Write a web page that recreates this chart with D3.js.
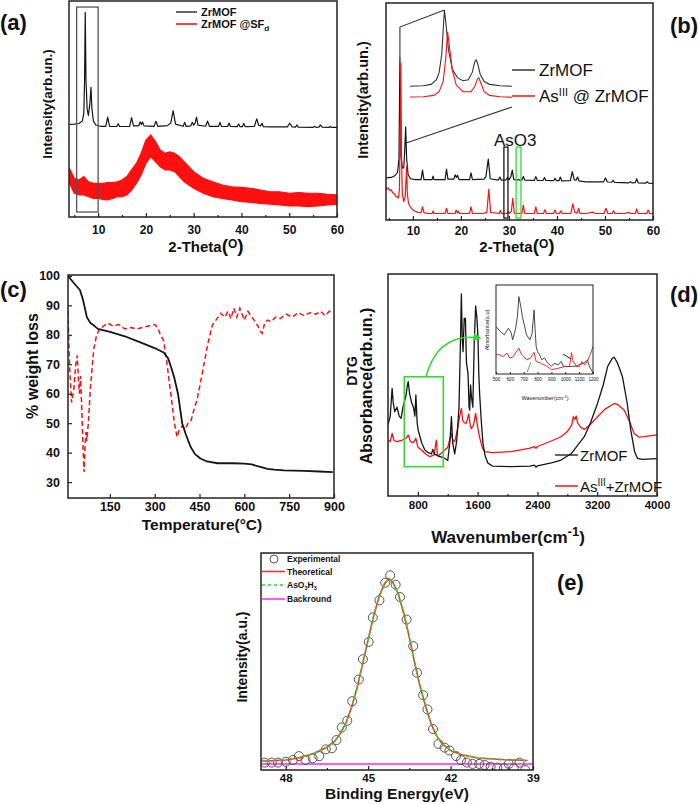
<!DOCTYPE html>
<html>
<head>
<meta charset="utf-8">
<script src="https://cdn.jsdelivr.net/npm/d3@7"></script>
<style>
body { margin: 0; background: #fff; }
text { font-family: "Liberation Sans", Arial, sans-serif; fill: #111; }
</style>
</head>
<body>
<div id="fig"></div>
<script>
// ---------- (a) XRD ZrMOF / ZrMOF@SFd ----------
const xrdTicks = [10, 20, 30, 40, 50, 60];
const xrdMinor = [5, 15, 25, 35, 45, 55];
const zrmofA = [[4,42.9],[5,43.0],[6,43.3],[6.7,44.5],[7.0,48],[7.15,62],[7.3,94.8],[7.45,64],[7.7,50],[7.95,47],[8.25,52],[8.5,60],[8.7,50],[9.0,44.5],[9.5,42.6],[10.5,42],[11.6,42],[12.0,46.2],[12.4,42],[13.9,41.9],[14.2,43.2],[14.5,41.9],[16.6,42],[17.0,46],[17.4,42.2],[18.5,42.2],[18.8,44],[19.05,42.8],[19.3,44],[19.6,42.2],[21.7,42],[22.1,44.3],[22.5,42],[24.5,42.3],[25.2,43.5],[25.7,49.2],[26.2,43],[27.8,42],[28.1,43.8],[28.4,42],[29.4,42.2],[29.7,43.8],[30.0,42.5],[30.3,43.5],[30.6,46.2],[30.9,42.5],[32.5,42],[32.9,44.4],[33.3,42],[35.2,42],[35.5,43.8],[35.8,42],[37.1,41.9],[37.4,43.5],[37.7,41.9],[39.1,41.8],[39.4,43],[39.7,41.8],[40.2,41.8],[40.5,43.3],[40.8,41.8],[42.7,42],[43.2,45.4],[43.6,42.5],[44.0,42.2],[44.3,43.4],[44.6,41.8],[46,41.7],[49.6,41.7],[50.1,43.4],[50.6,41.7],[51.3,41.6],[51.6,42.6],[51.9,41.6],[55.0,41.5],[55.3,42.0],[55.6,41.5],[56.2,41.6],[56.5,42.6],[56.9,41.6],[58.4,41.5],[58.6,42.0],[58.8,41.5],[60,41.5]];
// ZrMOF@SFd: noisy band, upper and lower edge
const sfdTheta = [4,5,6,7,8,9,10,11,12,13,14,15,16,17,18,19,20,21,22,23,24,25,26,27,28,29,30,32,34,36,38,40,42,44,46,48,50,52,54,56,58,60];
const sfdUpper = [22.5,17.9,17.1,18.7,16.3,15.6,15.6,15.6,15.9,15.9,16.3,17.1,18.7,21.8,24.8,29.5,35.6,38,34.9,31,29.5,30.2,29.5,27.9,25.6,23.3,21,17.9,16.3,14.8,14,13.7,13.3,12.5,11.7,11.7,11,11.3,11,11,10.5,10.2];
const sfdLower = [15.6,11.0,10.2,10.2,9.4,8.6,8.6,8.2,7.9,8.6,9.4,9.4,10.2,12.5,15.6,19.4,24.8,27.9,25.6,23.3,21.8,21.8,21,18.7,16.3,14.8,13.3,11,9.4,8.6,7.9,7.1,6.8,6.3,6.0,5.6,5.1,5.1,4.8,5.1,5.6,6.0];

// ---------- (b) XRD ZrMOF / AsIII@ZrMOF ----------
const zrmofB = [[4.3,19.4],[5.5,19.6],[6.3,20.5],[6.8,22],[7.1,28],[7.3,74.7],[7.5,30],[7.8,24],[8.1,24],[8.3,32],[8.5,42.9],[8.7,28],[9.0,21],[9.5,19],[10.5,18.6],[11.7,18.6],[12.0,23],[12.3,18.6],[14.0,18.6],[14.2,20.2],[14.4,18.6],[16.7,18.6],[17.0,23.5],[17.3,18.8],[18.5,18.8],[18.8,20.8],[19.05,19.6],[19.3,20.6],[19.6,18.6],[21.8,18.6],[22.1,21.7],[22.4,18.6],[24.8,18.8],[25.2,20],[25.7,28.1],[26.1,19],[27.8,18.4],[28.1,19.8],[28.4,18.4],[29.4,18.5],[29.7,19.6],[30.0,18.5],[30.4,20],[30.7,23],[31.0,18.6],[32.7,18.4],[33.0,20],[33.3,18.4],[35.3,18.3],[35.6,20],[35.9,18.3],[37.1,18.2],[37.4,19.6],[37.7,18.2],[39.3,18.1],[39.6,19.2],[39.9,18.1],[40.4,18.1],[40.7,19.8],[41.0,18.0],[42.8,18.1],[43.2,22.3],[43.6,18.5],[44.0,18.4],[44.3,19.8],[44.6,18],[46,17.6],[49.7,17.6],[50.1,19.4],[50.5,17.5],[51.4,17.4],[51.7,18.3],[52.0,17.3],[55,17.1],[55.3,17.7],[55.6,17.1],[56.3,17.2],[56.6,19.0],[56.9,17.1],[58.5,17.0],[58.8,17.6],[59.1,17],[60,16.9]];
const asZrB = [[4.3,15.3],[4.6,14.2],[4.9,14.8],[5.2,13.5],[5.5,13.9],[5.8,12.5],[6.1,12.2],[6.4,11],[6.7,10.6],[7.0,10.2],[7.2,14],[7.35,40],[7.5,72.4],[7.62,30],[7.8,12],[8.1,8.5],[8.4,11],[8.6,20],[8.7,24.6],[8.85,12],[9.1,7.5],[9.5,6],[10,4.6],[10.5,4.0],[11,3.5],[11.7,3.4],[12.0,6.1],[12.3,3.4],[13,3.0],[14.0,3.0],[14.2,4.2],[14.4,3.0],[16.7,3.0],[17.0,5.4],[17.3,3.0],[18.8,3.0],[19.0,4.6],[19.3,3.2],[19.5,4.0],[19.7,3],[21.8,3],[22.1,6.1],[22.4,3],[24.5,3.0],[25.4,3.5],[25.8,14.1],[26.2,3.5],[28,3.0],[28.2,4.4],[28.5,3.0],[29.6,3.0],[29.8,4.0],[30.1,3],[30.5,4],[30.8,10],[31.1,3.2],[32.7,3],[33.0,6.9],[33.3,3],[35.3,3],[35.6,6.1],[35.9,3],[37.2,3],[37.5,4.8],[37.8,3],[39.3,3],[39.6,4.6],[39.9,3],[40.5,3],[40.8,4.2],[41.1,3],[42.9,3],[43.3,7.4],[43.7,3.5],[44.2,3.2],[44.5,5.4],[44.8,3],[46,3],[47.5,3.6],[48,3],[49.8,3],[50.2,5.4],[50.6,3],[51.5,3],[51.8,4.3],[52.1,3],[54,3],[55,3.5],[55.3,3],[56.3,3],[56.6,5.1],[56.9,3],[58.7,3],[59,4.6],[59.3,3],[60,3]];
// zoomed view of the two low-angle peaks
const zoomZr = [[6.0,15],[6.5,15.5],[6.8,17],[7.0,22],[7.1,30],[7.2,50],[7.25,75],[7.3,97.8],[7.35,85],[7.45,55],[7.6,33],[7.8,24],[8.0,21],[8.2,22],[8.35,30],[8.45,42],[8.5,43.5],[8.55,40],[8.65,28],[8.8,20],[9.0,17],[9.4,15.5],[9.85,15]];
const zoomAs = [[6.0,3.3],[6.5,3.5],[6.9,5],[7.1,9],[7.25,20],[7.35,45],[7.42,74],[7.48,60],[7.6,32],[7.75,16],[8.0,9],[8.3,9],[8.45,15],[8.55,23],[8.6,24],[8.68,18],[8.8,9],[9.0,5],[9.4,3.5],[9.85,3]];

// ---------- (c) TGA / DTG ----------
const tgaTicksX = [150, 300, 450, 600, 750, 900];
const tgaTicksY = [30, 40, 50, 60, 70, 80, 90, 100];
const tgaT = [10,30,50,60,73,85,95,110,130,151,200,250,300,330,345,355,365,378,392,405,420,435,453,475,510,560,600,625,644,660,677,700,733,800,850,896];
const tgaW = [100,97.5,95.2,92,86,84,83.3,82,81.5,81,79.5,77.5,75.5,74,72,69,65.7,60,50,46,42,39.5,38,37,36.4,36.4,36.3,36,35.4,35,34.5,34.2,34,33.8,33.6,33.4];
const dtgT = [10,15,22,30,36,41,45,48,52,56,61,64,67,70,73,78,85,96,106,116,130,143,160,180,200,220,240,260,280,300,310,319,330,341,350,358,366,375,383,392,402,414,422,431,442,453,465,476,485,493,505,521,535,545,555,565,575,585,600,612,625,633,645,655,660,668,677,690,705,720,740,760,780,800,820,840,855,870,885,896];
const dtgV = [88,70,57,62,70,73,64.6,60,66,55,40,33.4,42,47,44,50,62,75,80,82,83,84,83,83.5,82,82.5,82,82.5,83,83.5,82.5,80,78,70.4,63,56.8,50,45.3,48,49,48,50.4,51,54.4,58,63.6,70,76,80,83.3,85,87.3,86,88,85.5,89,86,89,85,88,86,85,83,81,80.5,84,85,84.5,86,85.5,87,86,87.5,86.5,87.5,87,88,86.5,88,87.5];

// ---------- (d) FTIR ----------
const irTicks = [800, 1600, 2400, 3200, 4000];
const irMinor = [1200, 2000, 2800, 3600];
const irZr = [[400,32],[430,36],[455,48.5],[470,42],[490,38],[520,40],[550,36],[575,35],[600,40],[640,45],[660,50],[671,51.5],[690,46],[716,42],[740,40],[760,36],[773,45.5],[790,33],[804,29.7],[850,24],[893,20.7],[940,19.5],[982,19],[1000,21],[1020,19],[1071,18],[1120,17.5],[1160,17],[1200,16],[1230,25],[1249,35.7],[1265,24],[1293,19],[1320,25],[1350,40],[1370,70],[1382,91],[1395,70],[1404,65],[1420,80],[1436,80],[1450,60],[1471,55],[1485,40],[1493,38.7],[1505,50],[1516,45],[1535,40],[1555,70],[1573,85.6],[1590,80],[1604,71.8],[1615,55],[1627,45.5],[1650,33],[1671,23.7],[1700,18],[1738,14.8],[1800,13.5],[2049,13.2],[2300,13.5],[2360,13.9],[2380,13.0],[2400,13.6],[2600,15],[2716,16.2],[2850,19],[3027,26.7],[3110,33],[3204,41.7],[3280,50],[3338,58.2],[3400,62],[3427,62.5],[3470,60],[3538,53.7],[3600,42],[3649,29.7],[3700,20],[3738,17],[3800,16.5],[4000,16.8]];
const irAs = [[400,25.2],[430,24.5],[455,28.2],[480,25],[520,24.5],[580,25],[640,26],[671,27.5],[700,24.5],[740,24],[773,26],[800,22],[849,20.7],[900,19],[960,17.7],[1020,18.5],[1040,24],[1049,25.2],[1060,19],[1071,18],[1120,19.5],[1160,20.7],[1200,22],[1230,26],[1249,28.2],[1270,25],[1293,24.5],[1330,30],[1360,36],[1382,39.5],[1400,34],[1420,33],[1449,32.8],[1465,35],[1480,37],[1500,32],[1516,30.3],[1545,32],[1573,37.2],[1600,31],[1627,26.3],[1660,22],[1693,20],[1800,19.5],[2049,20],[2300,21.6],[2360,22.2],[2380,21.5],[2400,22.3],[2600,25],[2716,26.7],[2800,29],[2860,32],[2880,35.7],[2900,34.5],[2920,36],[2938,32.8],[2980,31],[3027,30],[3100,32],[3204,35.7],[3300,39],[3427,41.7],[3480,41],[3560,38.7],[3640,33],[3693,28.2],[3760,26.5],[3827,26.7],[4000,27.5]];
// inset 500-1200 cm-1
const insetTicks = [500, 600, 700, 800, 900, 1000, 1100, 1200];
const insetZr = [[500,53.3],[530,48],[560,44],[590,51.5],[610,46],[620,38.4],[640,50],[655,65],[665,86.9],[680,75],[690,64.5],[705,55],[720,44],[745,38.4],[760,45],[768,60],[775,72],[782,50],[790,30.9],[800,25],[815,21.6],[830,16],[850,18],[870,13],[900,8.5],[920,12],[950,10.4],[970,14.1],[985,9],[1000,8.5],[1050,8.5],[1080,9],[1100,10.4],[1130,12],[1150,14.1],[1160,16],[1170,10],[1200,1.1]];
const insetAs = [[500,21.6],[520,22],[550,19.7],[580,23.5],[600,17.8],[620,19],[640,23.5],[665,29.2],[680,23],[690,21.6],[720,16],[750,17.8],[765,22],[775,24.3],[790,14],[820,12.3],[850,10],[870,8.5],[900,4.8],[950,6.5],[1000,8.5],[1030,8.5],[1040,18],[1045,24],[1055,15],[1080,8.5],[1100,8],[1120,14],[1140,10],[1160,14.5],[1180,22],[1200,30.9]];

// ---------- (e) XPS As 3d ----------
const xpsTicks = [48, 45, 42, 39];
const xpsMinor = [46.5, 43.5, 40.5];
const expE = [48.76,48.51,48.28,48.0,47.74,47.52,47.28,47.02,46.78,46.54,46.32,46.15,45.96,45.76,45.58,45.34,45.19,44.98,44.83,44.59,44.38,44.20,44.0,43.84,43.6,43.36,43.22,43.0,42.84,42.64,42.44,42.22,42.04,41.8,41.62,41.41,41.2,40.96,40.76,40.54,40.3,40.06,39.88,39.7,39.49,39.28];
const expI = [3.4,3.4,3.4,3.8,4.6,6.4,4.6,5.4,6.4,9.5,10.0,13.8,19.6,22.7,31.7,41.7,51.1,59.0,70.3,78.2,86.3,89.7,85.4,79.7,69.3,57.1,44.8,34.5,27.9,18.9,12.0,10.3,9.0,6.4,4.6,3.4,2.8,2.8,2.3,1.5,1.1,0.8,2.8,0.8,3.4,0.0];
const fitE = [48.9,48,47.5,47,46.5,46.2,46,45.8,45.6,45.4,45.2,45,44.8,44.6,44.4,44.25,44.1,43.9,43.7,43.5,43.3,43.1,42.9,42.7,42.5,42.3,42,41.6,41,40,39.2];
const fitI = [4.0,4.6,5.7,7.5,10.5,13.5,17,22,29,38,49,60,71,80,86,88.2,86.5,81,72,61,49,38,29,21,15.5,12,9,7,5.5,4.7,4.4];
const xpsBackground = 2.8;

// ---------------------------------------------------------------
const svg = d3.select("#fig").append("svg")
  .attr("width", 698).attr("height", 804)
  .style("background", "#fff");

let clipN = 0;
function panel(box, xDom, yDom, bg) {
  const x = d3.scaleLinear().domain(xDom).range([box.l, box.r]);
  const y = d3.scaleLinear().domain(yDom).range([box.b, box.t]);
  const id = "clip" + (clipN++);
  svg.append("clipPath").attr("id", id).append("rect")
    .attr("x", box.l).attr("y", box.t)
    .attr("width", box.r - box.l).attr("height", box.b - box.t);
  if (bg) {
    svg.append("rect").attr("x", box.l).attr("y", box.t)
      .attr("width", box.r - box.l).attr("height", box.b - box.t).attr("fill", bg);
  }
  const g = svg.append("g").attr("clip-path", "url(#" + id + ")");
  return { x, y, g, box };
}

function frame(box, w) {
  svg.append("rect")
    .attr("x", box.l).attr("y", box.t)
    .attr("width", box.r - box.l).attr("height", box.b - box.t)
    .attr("fill", "none").attr("stroke", "#222").attr("stroke-width", w || 1.5);
}

// d3.axis writes its own font-size, so sizes are set after the call
function xAxis(p, ticks, minor, fs, pad, len) {
  len = len || 4;
  const ga = svg.append("g").attr("transform", "translate(0," + p.box.b + ")")
    .call(d3.axisBottom(p.x).tickValues(ticks).tickSize(-len).tickPadding(pad).tickFormat(d3.format("d")))
    .attr("font-size", fs).attr("font-weight", "bold");
  ga.select(".domain").remove();
  ga.selectAll("line").attr("stroke", "#222").attr("stroke-width", 1.2);
  if (minor) {
    const gm = svg.append("g").attr("transform", "translate(0," + p.box.b + ")")
      .call(d3.axisBottom(p.x).tickValues(minor).tickSize(-len / 2).tickFormat(""));
    gm.select(".domain").remove();
    gm.selectAll("line").attr("stroke", "#222").attr("stroke-width", 1.2);
  }
  return ga;
}

function lineOf(p, pts, color, w) {
  p.g.append("path").datum(pts)
    .attr("d", d3.line().x(d => p.x(d[0])).y(d => p.y(d[1])))
    .attr("fill", "none").attr("stroke", color).attr("stroke-width", w)
    .attr("stroke-linejoin", "round");
}

function label(x, y, txt, size, opts) {
  opts = opts || {};
  const t = svg.append("text").attr("x", x).attr("y", y)
    .attr("font-size", size)
    .attr("font-weight", opts.weight || "bold")
    .attr("text-anchor", opts.anchor || "start")
    .text(txt);
  if (opts.rotate) t.attr("transform", "rotate(-90," + x + "," + y + ")");
  return t;
}

function thetaTitle(cx, y) {
  const t = svg.append("text").attr("x", cx).attr("y", y)
    .attr("text-anchor", "middle").attr("font-weight", "bold").attr("font-size", 15);
  t.append("tspan").text("2-Theta");
  t.append("tspan").attr("font-size", 19).text("(");
  t.append("tspan").attr("font-size", 12).attr("dy", -4).text("O");
  t.append("tspan").attr("font-size", 19).attr("dy", 4).text(")");
}

const RED = "#ff1010", BLACK = "#151515";

// ====================== (a) ======================
const pa = panel({ l: 69, t: 1, r: 337, b: 217 }, [3.9, 60], [0, 100]);
pa.g.append("path").datum(sfdTheta.map((t, i) => [t, sfdUpper[i], sfdLower[i]]))
  .attr("d", d3.area().x(d => pa.x(d[0])).y0(d => pa.y(d[2])).y1(d => pa.y(d[1])))
  .attr("fill", RED).attr("stroke", RED).attr("stroke-width", 1.2);
lineOf(pa, zrmofA, BLACK, 1.2);
pa.g.append("rect")
  .attr("x", pa.x(5.5)).attr("y", pa.y(97.2))
  .attr("width", pa.x(10) - pa.x(5.5)).attr("height", pa.y(2.3) - pa.y(97.2))
  .attr("fill", "none").attr("stroke", "#555").attr("stroke-width", 1.3);
frame(pa.box);
xAxis(pa, xrdTicks, xrdMinor, 12, 8);
thetaTitle(206, 252);
label(52, 104, "Intensity(arb.un.)", 13.5, { anchor: "middle", rotate: true });
label(0, 30, "(a)", 22);
// legend
svg.append("line").attr("x1", 176).attr("x2", 197).attr("y1", 12).attr("y2", 12).attr("stroke", BLACK).attr("stroke-width", 1.3);
label(201, 16, "ZrMOF", 11);
svg.append("line").attr("x1", 176).attr("x2", 197).attr("y1", 24).attr("y2", 24).attr("stroke", RED).attr("stroke-width", 1.6);
const la = label(201, 28, "ZrMOF @SF", 11);
la.append("tspan").attr("font-size", 8).attr("dy", 3).text("d");

// ====================== (b) ======================
const pb = panel({ l: 386, t: 3, r: 653, b: 220 }, [4.4, 60], [0, 100]);
lineOf(pb, zrmofB, BLACK, 1.2);
lineOf(pb, asZrB, RED, 1.2);
// AsO3 marks
pb.g.append("rect").attr("x", pb.x(28.95)).attr("y", pb.y(33.6))
  .attr("width", pb.x(29.8) - pb.x(28.95)).attr("height", pb.y(0.9) - pb.y(33.6))
  .attr("fill", "none").attr("stroke", BLACK).attr("stroke-width", 1.3);
pb.g.append("rect").attr("x", pb.x(31.5)).attr("y", pb.y(33.6))
  .attr("width", pb.x(32.5) - pb.x(31.5)).attr("height", pb.y(0.9) - pb.y(33.6))
  .attr("fill", "none").attr("stroke", "#33dd33").attr("stroke-width", 1.3);
label(pb.x(31.3), 146, "AsO3", 17, { anchor: "middle", weight: "normal" });
// zoom inset of the first two peaks
const ib = {
  x: d3.scaleLinear().domain([6.0, 9.85]).range([410, 512]),
  y: d3.scaleLinear().domain([0, 100]).range([100, 8])
};
svg.append("path").datum(zoomZr).attr("d", d3.line().x(d => ib.x(d[0])).y(d => ib.y(d[1])))
  .attr("fill", "none").attr("stroke", "#333").attr("stroke-width", 1.1);
svg.append("path").datum(zoomAs).attr("d", d3.line().x(d => ib.x(d[0])).y(d => ib.y(d[1])))
  .attr("fill", "none").attr("stroke", RED).attr("stroke-width", 1.1);
svg.append("path")
  .attr("d", "M" + pb.x(7.3) + "," + pb.y(74.7) + "L" + pb.x(7.3) + "," + pb.y(88.9) + "L" + ib.x(7.3) + "," + ib.y(97.8))
  .attr("fill", "none").attr("stroke", "#333").attr("stroke-width", 1.1);
svg.append("line")
  .attr("x1", pb.x(8.6)).attr("y1", pb.y(35.5)).attr("x2", ib.x(9.85)).attr("y2", ib.y(-7.6))
  .attr("stroke", "#333").attr("stroke-width", 1.1);
frame(pb.box);
xAxis(pb, xrdTicks, xrdMinor, 12, 6);
thetaTitle(517, 252);
label(368, 100, "Intensity(arb.un.)", 14.5, { anchor: "middle", rotate: true });
label(670, 33, "(b)", 22);
svg.append("line").attr("x1", 512).attr("x2", 535).attr("y1", 70).attr("y2", 70).attr("stroke", BLACK).attr("stroke-width", 1.3);
label(539, 76, "ZrMOF", 17, { weight: "normal" });
svg.append("line").attr("x1", 512).attr("x2", 535).attr("y1", 96).attr("y2", 96).attr("stroke", RED).attr("stroke-width", 1.5);
const lb = label(539, 102, "As", 17, { weight: "normal" });
lb.append("tspan").attr("font-size", 11).attr("dy", -6).text("III");
lb.append("tspan").attr("dy", 6).text(" @ ZrMOF");

// ====================== (c) ======================
const pc = panel({ l: 68, t: 275, r: 334, b: 498 }, [10, 900], [24.6, 100.3]);
pc.g.append("path").datum(dtgT.map((t, i) => [t, dtgV[i]]))
  .attr("d", d3.line().x(d => pc.x(d[0])).y(d => pc.y(d[1])))
  .attr("fill", "none").attr("stroke", RED).attr("stroke-width", 1.5).attr("stroke-dasharray", "5,3");
lineOf(pc, tgaT.map((t, i) => [t, tgaW[i]]), BLACK, 1.8);
frame(pc.box);
xAxis(pc, tgaTicksX, null, 12.5, 4);
const gy = svg.append("g").attr("transform", "translate(" + pc.box.l + ",0)")
  .call(d3.axisLeft(pc.y).tickValues(tgaTicksY).tickSize(-4).tickPadding(8))
  .attr("font-size", 12.5).attr("font-weight", "bold");
gy.select(".domain").remove();
gy.selectAll("line").attr("stroke", "#222").attr("stroke-width", 1.2);
label(202, 530, "Temperature(°C)", 15.5, { anchor: "middle" });
label(38, 366, "% weight loss", 16, { anchor: "middle", rotate: true });
label(0, 297, "(c)", 22);

// ====================== (d) ======================
const pd = panel({ l: 388, t: 274, r: 657, b: 496 }, [400, 4000], [0, 100]);
lineOf(pd, irAs, RED, 1.3);
lineOf(pd, irZr, BLACK, 1.3);
pd.g.append("rect")
  .attr("x", pd.x(618)).attr("y", pd.y(53.7))
  .attr("width", pd.x(1140) - pd.x(618)).attr("height", pd.y(13.2) - pd.y(53.7))
  .attr("fill", "none").attr("stroke", "#2fdc2f").attr("stroke-width", 1.6);
svg.append("defs").append("marker").attr("id", "garrow")
  .attr("viewBox", "0 0 10 10").attr("refX", 8).attr("refY", 5)
  .attr("markerWidth", 5).attr("markerHeight", 5).attr("orient", "auto")
  .append("path").attr("d", "M0,0L10,5L0,10z").attr("fill", "#2fdc2f");
svg.append("path")
  .attr("d", "M" + pd.x(908) + "," + pd.y(53.7) + "Q" + pd.x(1069) + "," + pd.y(73.9) + " " + pd.x(1631) + "," + pd.y(71.2))
  .attr("fill", "none").attr("stroke", "#2fdc2f").attr("stroke-width", 1.6)
  .attr("marker-end", "url(#garrow)");
frame(pd.box);
xAxis(pd, irTicks, irMinor, 11.5, 5);
const tx = label(508, 543, "Wavenumber(cm", 17, { anchor: "middle" });
tx.append("tspan").attr("font-size", 13).attr("dy", -7).text("-1");
tx.append("tspan").attr("dy", 7).text(")");
label(372, 386, "Absorbance(arb.un.)", 16, { anchor: "middle", rotate: true });
label(357, 371, "DTG", 14, { anchor: "middle", rotate: true });
label(670, 302, "(d)", 22);
svg.append("line").attr("x1", 555).attr("x2", 578).attr("y1", 455).attr("y2", 455).attr("stroke", BLACK).attr("stroke-width", 1.3);
label(580, 461, "ZrMOF", 15, { weight: "normal" });
svg.append("line").attr("x1", 555).attr("x2", 578).attr("y1", 486).attr("y2", 486).attr("stroke", RED).attr("stroke-width", 1.5);
const ld = label(580, 492, "As", 15, { weight: "normal" });
ld.append("tspan").attr("font-size", 10).attr("dy", -6).text("III");
ld.append("tspan").attr("dy", 6).text("+ZrMOF");

// inset of (d), on a white patch
const pi = panel({ l: 496, t: 285, r: 593, b: 374 }, [500, 1200], [0, 100], "#fff");
lineOf(pi, insetZr, "#333", 0.9);
lineOf(pi, insetAs, RED, 0.9);
pi.g.append("line").attr("x1", pi.x(983)).attr("y1", pi.y(22.5)).attr("x2", pi.x(1041)).attr("y2", pi.y(17))
  .attr("stroke", "#222").attr("stroke-width", 1);
pi.g.append("line").attr("x1", pi.x(724)).attr("y1", pi.y(2)).attr("x2", pi.x(753)).attr("y2", pi.y(13.5))
  .attr("stroke", "#888").attr("stroke-width", 1);
frame(pi.box, 1);
const gi = svg.append("g").attr("transform", "translate(0," + pi.box.b + ")")
  .call(d3.axisBottom(pi.x).tickValues(insetTicks).tickSize(-2).tickPadding(4).tickFormat(d3.format("d")))
  .attr("font-size", 4.6);
gi.select(".domain").remove();
gi.selectAll("line").attr("stroke", "#222");
const ti = label(545, 400, "Wavenumber(cm", 5.5, { anchor: "middle", weight: "normal" });
ti.append("tspan").attr("font-size", 4).attr("dy", -2.5).text("-1");
ti.append("tspan").attr("dy", 2.5).text(")");
label(489, 330, "Absorbance(a.u)", 5.5, { anchor: "middle", rotate: true, weight: "normal" });

// ====================== (e) ======================
const pe = panel({ l: 261, t: 553, r: 533, b: 770 }, [48.9, 39], [0, 100]);
pe.g.append("line").attr("x1", pe.box.l).attr("x2", pe.box.r)
  .attr("y1", pe.y(xpsBackground)).attr("y2", pe.y(xpsBackground))
  .attr("stroke", "#ff22ff").attr("stroke-width", 1.5);
pe.g.selectAll("circle").data(expE).join("circle")
  .attr("cx", d => pe.x(d)).attr("cy", (d, i) => pe.y(expI[i])).attr("r", 4.5)
  .attr("fill", "none").attr("stroke", "#555").attr("stroke-width", 1);
const fitPts = fitE.map((e, i) => [e, fitI[i]]);
lineOf(pe, fitPts, "#ff3030", 1.6);
pe.g.append("path").datum(fitPts)
  .attr("d", d3.line().x(d => pe.x(d[0])).y(d => pe.y(d[1])))
  .attr("fill", "none").attr("stroke", "#22dd22").attr("stroke-width", 1.6).attr("stroke-dasharray", "3,3");
frame(pe.box);
xAxis(pe, xpsTicks, xpsMinor, 11.5, 4);
label(397, 799, "Binding Energy(eV)", 15.5, { anchor: "middle" });
label(247, 657, "Intensity(a.u.)", 14, { anchor: "middle", rotate: true });
label(557, 590, "(e)", 22);
// legend
svg.append("circle").attr("cx", 274).attr("cy", 559).attr("r", 4).attr("fill", "none").attr("stroke", "#555");
label(287, 562, "Experimental", 8.5);
svg.append("line").attr("x1", 262).attr("x2", 285).attr("y1", 571.5).attr("y2", 571.5).attr("stroke", "#ff3030").attr("stroke-width", 1.6);
label(287, 574.5, "Theoretical", 8.5);
svg.append("line").attr("x1", 262).attr("x2", 285).attr("y1", 585).attr("y2", 585).attr("stroke", "#22dd22").attr("stroke-width", 1.6).attr("stroke-dasharray", "3,3");
const le = label(287, 588, "AsO", 8.5);
le.append("tspan").attr("font-size", 5.5).attr("dy", 2).text("3");
le.append("tspan").attr("dy", -2).text("H");
le.append("tspan").attr("font-size", 5.5).attr("dy", 2).text("3");
svg.append("line").attr("x1", 262).attr("x2", 285).attr("y1", 599).attr("y2", 599).attr("stroke", "#ff22ff").attr("stroke-width", 1.5);
label(287, 602, "Backround", 8.5);
</script>
</body>
</html>
